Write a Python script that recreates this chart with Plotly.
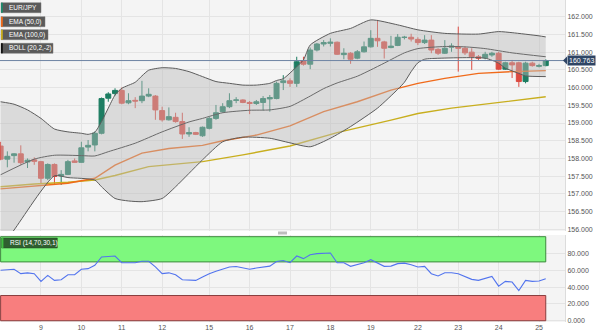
import plotly.graph_objects as go

# ---------------- data (4-hour candles, index = bar number) ----------------
day_tick_index = [0, 6, 12, 18, 24, 31, 37, 43, 49, 55, 62, 68, 74, 80]
day_tick_text = ["8", "9", "10", "11", "12", "15", "16", "17", "18", "19", "22", "23", "24", "25"]

open_ = [158.35, 157.98, 158.08, 158.13, 157.90, 157.96, 157.91, 157.44, 157.83, 157.51,
         157.55, 157.93, 157.89, 158.32, 158.38, 158.71, 159.70, 159.83, 159.92, 159.57,
         159.64, 159.63, 159.76, 159.76, 159.35, 159.09, 159.16, 159.04, 158.69, 158.73,
         158.64, 158.85, 159.13, 159.32, 159.46, 159.64, 159.65, 159.58, 159.55, 159.58,
         159.68, 159.69, 160.14, 160.19, 160.12, 160.76, 160.66, 161.06, 161.23, 161.25,
         161.28, 160.93, 160.97, 160.83, 161.01, 161.15, 161.39, 161.29, 161.13, 161.19,
         161.415, 161.42, 161.36, 161.27, 161.34, 161.08, 160.97, 161.14, 161.15, 161.11,
         161.00, 160.87, 160.84, 160.92, 160.97, 160.52, 160.70, 160.70, 160.17, 160.69,
         160.60, 160.62]
high = [158.47, 158.20, 158.15, 158.37, 158.00, 158.03, 157.93, 157.86, 157.86, 157.67,
        157.96, 158.00, 158.47, 158.52, 158.76, 159.72, 159.87, 159.98, 160.00, 159.84,
        159.73, 160.19, 159.98, 159.79, 159.46, 159.44, 159.29, 159.29, 158.88, 158.75,
        158.90, 159.18, 159.51, 159.56, 159.84, 159.73, 159.67, 159.62, 159.65, 159.76,
        159.79, 160.17, 160.35, 160.26, 160.87, 160.87, 161.13, 161.26, 161.34, 161.39,
        161.30, 161.11, 161.00, 161.06, 161.30, 161.62, 161.91, 161.32, 161.46, 161.51,
        161.46, 161.52, 161.42, 161.48, 161.48, 161.11, 161.34, 161.25, 161.72, 161.15,
        161.11, 160.92, 161.01, 161.01, 161.01, 160.73, 160.78, 160.73, 160.73, 160.73,
        160.67, 160.80]
low = [157.95, 157.75, 157.88, 157.82, 157.73, 157.82, 157.30, 157.39, 157.25, 157.25,
       157.53, 157.88, 157.88, 158.20, 158.20, 158.68, 159.60, 159.77, 159.53, 159.53,
       159.42, 159.56, 159.73, 159.09, 159.04, 159.07, 159.01, 158.55, 158.61, 158.66,
       158.61, 158.82, 159.09, 159.29, 159.42, 159.56, 159.56, 159.25, 159.51, 159.35,
       159.32, 159.67, 159.93, 160.02, 160.02, 160.62, 160.52, 161.02, 161.16, 161.16,
       160.92, 160.80, 160.67, 160.80, 160.99, 161.13, 161.15, 160.82, 161.11, 161.17,
       161.36, 161.30, 161.20, 161.23, 160.97, 160.92, 160.95, 161.01, 160.45, 160.92,
       160.50, 160.78, 160.80, 160.87, 160.50, 160.50, 160.27, 160.02, 160.12, 160.59,
       160.57, 160.60]
close = [157.98, 158.06, 158.13, 157.88, 157.95, 157.92, 157.44, 157.83, 157.49, 157.55,
         157.91, 157.89, 158.30, 158.37, 158.71, 159.69, 159.82, 159.92, 159.56, 159.63,
         159.62, 159.76, 159.81, 159.37, 159.09, 159.18, 159.04, 158.69, 158.73, 158.68,
         158.88, 159.13, 159.29, 159.46, 159.63, 159.65, 159.58, 159.55, 159.60, 159.69,
         159.72, 160.12, 160.19, 160.12, 160.73, 160.66, 161.06, 161.23, 161.27, 161.28,
         160.94, 160.97, 160.80, 161.01, 161.15, 161.39, 161.32, 161.11, 161.17, 161.42,
         161.42, 161.37, 161.27, 161.34, 161.06, 160.97, 161.11, 161.17, 161.11, 160.98,
         160.87, 160.83, 160.94, 160.97, 160.52, 160.70, 160.64, 160.17, 160.69, 160.62,
         160.62, 160.763]

# Bollinger (20,2,-2)
bb_upper_idx = [0, 2, 4, 6, 8, 10, 12, 13, 14, 15, 16, 17, 18, 20, 21, 22, 24, 26, 28, 30,
                32, 34, 36, 38, 40, 41, 42, 44, 45, 46, 49, 52, 55, 59, 62, 66, 71, 74, 76, 80, 81]
bb_upper = [159.60, 159.53, 159.37, 159.13, 158.83, 158.75, 158.71, 158.68, 158.74, 159.04,
            159.42, 159.79, 159.98, 160.15, 160.33, 160.49, 160.56, 160.54, 160.45, 160.31,
            160.17, 160.12, 160.07, 160.07, 160.12, 160.20, 160.25, 160.59, 160.78, 161.20,
            161.53, 161.67, 161.91, 161.77, 161.63, 161.53, 161.51, 161.58, 161.55, 161.46, 161.43]
bb_mid_idx = [0, 5, 8, 12, 14, 16, 20, 24, 28, 30, 33, 37, 40, 43, 46, 48, 50, 53, 55, 57,
              60, 62, 66, 69, 72, 76, 81]
bb_mid = [157.54, 157.98, 158.09, 158.08, 158.07, 158.19, 158.43, 158.75, 159.03, 159.13,
          159.29, 159.36, 159.37, 159.47, 159.76, 159.97, 160.13, 160.32, 160.50, 160.69,
          160.98, 161.10, 161.16, 161.15, 161.10, 160.98, 160.87]
bb_lower_idx = [0, 2, 8, 10, 14, 15, 17, 19, 21, 24, 26, 28, 30, 33, 36, 40, 43, 46, 49, 52,
                56, 59, 60, 61, 62, 63, 64, 72, 74, 75, 77, 78, 81]
bb_lower = [155.47, 155.98, 157.51, 157.46, 157.39, 157.20, 156.87, 156.80, 156.78, 156.87,
            157.20, 157.58, 157.96, 158.47, 158.60, 158.57, 158.44, 158.33, 158.57, 158.90,
            159.42, 159.95, 160.15, 160.45, 160.70, 160.80, 160.82, 160.83, 160.69, 160.55,
            160.40, 160.33, 160.31]

# EMA lines
ema50_idx = [0, 5, 10, 14, 17, 21, 25, 30, 33, 38, 43, 48, 53, 58, 62, 66, 71, 76, 81]
ema50 = [157.14, 157.23, 157.30, 157.44, 157.81, 158.15, 158.28, 158.37, 158.50, 158.66,
         158.92, 159.32, 159.60, 159.93, 160.12, 160.26, 160.40, 160.45, 160.48]
ema100_idx = [0, 5, 10, 14, 17, 22, 30, 36, 43, 50, 58, 62, 67, 81]
ema100 = [157.20, 157.28, 157.33, 157.39, 157.52, 157.77, 157.91, 158.10, 158.35, 158.73,
          159.08, 159.27, 159.42, 159.74]

# RSI (14) per candle
rsi = [60, 61, 61.2, 56, 57, 56, 46.8, 54, 48, 48.8,
       54.7, 54.7, 61.2, 62, 66, 75.9, 76.7, 77, 69, 69,
       69, 70.7, 70.7, 64, 56, 57, 54.7, 48.8, 48.8, 48,
       52, 56, 58.8, 61.2, 64, 64.6, 62.7, 61.2, 62.7, 64,
       65, 70.5, 71.7, 69, 77, 73.9, 78.6, 79.8, 79.8, 80.6,
       69, 69, 64.7, 67, 69, 72.6, 69, 64.7, 65, 67.9,
       68.5, 66.7, 63.9, 64.7, 56, 53.2, 57.1, 57.1, 56, 52.8,
       49.2, 48, 50.8, 52.8, 41.2, 46.8, 46, 36, 48, 46.8,
       47.2, 50]
RSI_UPPER, RSI_LOWER = 70, 30

main_ticks = [156.0, 156.5, 157.0, 157.5, 158.0, 158.5, 159.0, 159.5, 160.0, 160.5, 161.0, 161.5, 162.0]
rsi_ticks = [0, 20, 40, 60, 80]

legend_items = [("EUR/JPY", "#1d8a6c"), ("EMA (50,0)", "#f06a1a"),
                ("EMA (100,0)", "#c8ae1e"), ("BOLL (20,2,-2)", "#111111")]

# ---------------- styling / layout constants ----------------
W, H = 600, 335
ML, MR, MT, MB = 0, 35, 0, 13
PW, PH = W - ML - MR, H - MT - MB

UP = "#1d7d62"
DOWN = "#dc4a40"
GRID = "#e4e4e4"
BG = "#f4f4f4"
FONT = "Liberation Sans, Arial, sans-serif"

idx = list(range(len(close)))


def px(xp):
    return xp / PW


def py(yp):
    return 1 - yp / PH


fig = go.Figure()

fig.add_trace(go.Candlestick(
    x=idx, open=open_, high=high, low=low, close=close,
    xaxis="x2", yaxis="y",
    increasing=dict(line=dict(color=UP, width=1), fillcolor=UP),
    decreasing=dict(line=dict(color=DOWN, width=1), fillcolor=DOWN),
    whiskerwidth=0, showlegend=False, hoverinfo="skip"))

fig.add_trace(go.Scatter(x=ema100_idx, y=ema100, mode="lines", xaxis="x2", yaxis="y",
                         line=dict(color="#c8ae1e", width=1.4), showlegend=False,
                         hoverinfo="skip"))
fig.add_trace(go.Scatter(x=ema50_idx, y=ema50, mode="lines", xaxis="x2", yaxis="y",
                         line=dict(color="#f06a1a", width=1.4), showlegend=False,
                         hoverinfo="skip"))
fig.add_trace(go.Scatter(x=bb_upper_idx, y=bb_upper, mode="lines", xaxis="x2", yaxis="y",
                         line=dict(color="#5c5c5c", width=1, shape="spline", smoothing=0.6),
                         showlegend=False, hoverinfo="skip"))
fig.add_trace(go.Scatter(x=bb_lower_idx, y=bb_lower, mode="lines", xaxis="x2", yaxis="y",
                         line=dict(color="#5c5c5c", width=1, shape="spline", smoothing=0.6),
                         fill="tonexty", fillcolor="rgba(186,186,186,0.45)",
                         showlegend=False, hoverinfo="skip"))
fig.add_trace(go.Scatter(x=bb_mid_idx, y=bb_mid, mode="lines", xaxis="x2", yaxis="y",
                         line=dict(color="#6a6a6a", width=1, shape="spline", smoothing=0.6),
                         showlegend=False, hoverinfo="skip"))

fig.add_trace(go.Scatter(x=idx, y=rsi, mode="lines", xaxis="x", yaxis="y2",
                         line=dict(color="#5274ee", width=1.1), showlegend=False,
                         hoverinfo="skip"))

x_range = [-0.09, 83.86]
main_range = [155.952, 162.472]
rsi_range = [-1.5, 102]

shapes = []
# RSI zones
shapes.append(dict(type="rect", xref="x", yref="y2", x0=idx[0], x1=idx[-1],
                   y0=RSI_UPPER, y1=100, fillcolor="#7ef87e",
                   line=dict(color="#3d8a3d", width=1), layer="between"))
shapes.append(dict(type="rect", xref="x", yref="y2", x0=idx[0], x1=idx[-1],
                   y0=0, y1=RSI_LOWER, fillcolor="#f87e7e",
                   line=dict(color="#8a3d3d", width=1), layer="between"))
# last price line
shapes.append(dict(type="line", xref="paper", yref="y", x0=0, x1=1,
                   y0=close[-1], y1=close[-1], line=dict(color="#6e84a3", width=1),
                   layer="above"))
# panel divider handle
shapes.append(dict(type="rect", xref="paper", yref="paper", x0=px(278), x1=px(287),
                   y0=py(234.5), y1=py(231.5), fillcolor="#bdbdbd", line=dict(width=0)))

annotations = []
# legend boxes (top-left)
box_tops = [2.7, 16.7, 29.7, 43.3]
box_widths = [40, 44, 47, 52]
for (label, col), top, wdt in zip(legend_items, box_tops, box_widths):
    shapes.append(dict(type="rect", xref="paper", yref="paper", x0=px(1), x1=px(1 + wdt),
                       y0=py(top + 10), y1=py(top), fillcolor="#5a5a5a",
                       line=dict(color="#7a7a7a", width=0.5), layer="above"))
    shapes.append(dict(type="rect", xref="paper", yref="paper", x0=px(1), x1=px(2.8),
                       y0=py(top + 10), y1=py(top), fillcolor=col,
                       line=dict(width=0), layer="above"))
    annotations.append(dict(xref="paper", yref="paper", x=px(7), y=py(top + 5),
                            xanchor="left", yanchor="middle", text=label, showarrow=False,
                            font=dict(family=FONT, size=6.5, color="white")))

# RSI label box
shapes.append(dict(type="rect", xref="paper", yref="paper", x0=px(1.7), x1=px(57.3),
                   y0=py(248), y1=py(238), fillcolor="#2f5f2f",
                   line=dict(color="#224422", width=0.5), layer="above"))
shapes.append(dict(type="rect", xref="paper", yref="paper", x0=px(1.7), x1=px(3.4),
                   y0=py(248), y1=py(238), fillcolor="#3fbf3f",
                   line=dict(width=0), layer="above"))
annotations.append(dict(xref="paper", yref="paper", x=px(7.5), y=py(243),
                        xanchor="left", yanchor="middle", text="RSI (14,70,30,1)",
                        showarrow=False, font=dict(family=FONT, size=6.5, color="white")))

# last price label
annotations.append(dict(xref="paper", yref="y", x=1, y=close[-1], xanchor="left",
                        yanchor="middle", xshift=2, text=f"{close[-1]:.3f}", showarrow=False,
                        bgcolor="#2f4565", borderpad=1,
                        font=dict(family=FONT, size=7, color="white")))
# arrow tip of price label
shapes.append(dict(type="path", xref="paper", yref="paper",
                   path=f"M {px(PW + 2)} {py(60.5 - 4)} L {px(PW - 2)} {py(60.5)} L {px(PW + 2)} {py(60.5 + 4)} Z",
                   fillcolor="#2f4565", line=dict(width=0), layer="above"))

fig.update_layout(
    width=W, height=H,
    margin=dict(l=ML, r=MR, t=MT, b=MB),
    paper_bgcolor="white", plot_bgcolor=BG,
    showlegend=False,
    boxgap=0.22, boxgroupgap=0.05,
    font=dict(family=FONT, size=7, color="#555555"),
    xaxis=dict(anchor="y2", domain=[0, 1], range=x_range, tickmode="array",
               tickvals=day_tick_index, ticktext=day_tick_text, showgrid=True,
               gridcolor=GRID, gridwidth=1, zeroline=False, ticks="", showline=False,
               rangeslider=dict(visible=False), tickfont=dict(size=7, color="#555555")),
    xaxis2=dict(anchor="y", domain=[0, 1], range=x_range, matches="x", tickmode="array",
                tickvals=day_tick_index, showticklabels=False, showgrid=True,
                gridcolor=GRID, zeroline=False, ticks="", rangeslider=dict(visible=False)),
    yaxis=dict(domain=[1 - 231 / PH, 1], range=main_range, side="right", anchor="x2",
               tickmode="array", tickvals=main_ticks, tickformat=".3f", showgrid=True,
               gridcolor=GRID, zeroline=False, ticks="", showline=True,
               linecolor="#dcdcdc", linewidth=1, tickfont=dict(size=7, color="#555555")),
    yaxis2=dict(domain=[0, 1 - 235 / PH], range=rsi_range, side="right", anchor="x",
                tickmode="array", tickvals=rsi_ticks, tickformat=".3f", showgrid=True,
                gridcolor=GRID, zeroline=False, ticks="", showline=True,
                linecolor="#dcdcdc", linewidth=1, tickfont=dict(size=7, color="#555555")),
    shapes=shapes,
    annotations=annotations,
)

fig.write_html("out.html")
